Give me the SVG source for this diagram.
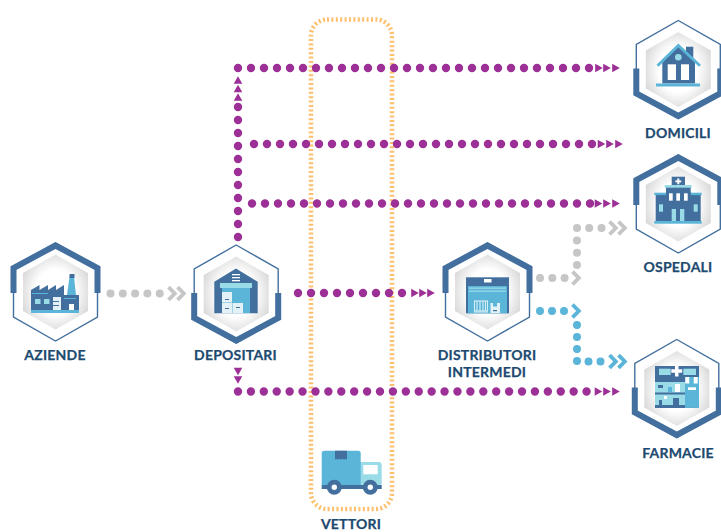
<svg xmlns="http://www.w3.org/2000/svg" xmlns:xlink="http://www.w3.org/1999/xlink" width="721" height="532" viewBox="0 0 721 532">
<style>
text{font-family:"Lato","Liberation Sans",sans-serif;font-weight:700;font-size:14px;fill:#1d4a70;text-anchor:middle;letter-spacing:.2px;stroke:#1d4a70;stroke-width:.25}
.thin{fill:#fff;stroke:#426f9e;stroke-width:1.4;stroke-linejoin:miter}
.thick{fill:none;stroke:#426f9e;stroke-width:6;stroke-linejoin:miter}
.d{fill:#426f9e}.b{fill:#5bb5d8}.l{fill:#9adbe8}.w{fill:#fff}.p{fill:#e2f1f6}
.dots{fill:none;stroke-linecap:round;stroke-width:8.4}
.pu{stroke:#9c3097;stroke-dasharray:0 13}
.gr{stroke:#c6c6c6;stroke-dasharray:0 12.3;stroke-width:8}
.bl{stroke:#5bb5d8;stroke-dasharray:0 12;stroke-width:8}
.chev{fill:none;stroke-width:3.8;stroke-linecap:butt}
</style>
<defs>
<radialGradient id="g" cx=".5" cy=".5" r=".55"><stop offset=".55" stop-color="#fff"/><stop offset="1" stop-color="#d9d9d9"/></radialGradient>
<g id="hexbase">
<polygon class="thin" points="0,-49 42,-25 42,25 0,49 -42,25 -42,-25"/>
<polygon fill="url(#g)" points="0,-37.5 32.5,-19 32.5,19 0,37.5 -32.5,19 -32.5,-19"/>
</g>
<polyline id="bandTop" class="thick" points="-42,1 -42,-24 0,-46.500 42,-24 42,1"/>
<polyline id="bandBot" class="thick" points="-42,-1 -42,24 0,46.500 42,24 42,-1"/>
<polygon id="tri" points="-3.8,-4.300 3.800,0 -3.800,4.300" fill="#9c3097"/>
<polyline id="chevG" class="chev" stroke="#c6c6c6" points="-3.500,-6.300 2.800,0 -3.500,6.300"/>
<polyline id="chevB" class="chev" stroke="#5bb5d8" points="-3.500,-6.300 2.800,0 -3.500,6.300"/>
</defs>

<g id="carrier-frame"><rect x="311" y="19.500" width="81" height="489.500" rx="16" fill="none" stroke="#fdbf6b" stroke-width="4.500" stroke-dasharray="2 2.400"/></g>

<g id="connectors">
<path class="dots pu" d="M238 68H590"/>
<path class="dots pu" d="M238 237V106.500"/>
<path class="dots pu" d="M254 144H593"/>
<path class="dots pu" d="M252 203.500H590.500"/>
<path class="dots pu" d="M298 293H403"/>
<path class="dots pu" style="stroke-dasharray:0 12.91" d="M238 391.500H587"/>
<use href="#tri" transform="translate(599,68)"/><use href="#tri" transform="translate(607,68)"/><use href="#tri" transform="translate(616,68)"/>
<use href="#tri" transform="translate(601.500,144)"/><use href="#tri" transform="translate(610,144)"/><use href="#tri" transform="translate(619,144)"/>
<use href="#tri" transform="translate(598.500,203.500)"/><use href="#tri" transform="translate(607,203.500)"/><use href="#tri" transform="translate(616,203.500)"/>
<use href="#tri" transform="translate(415,293)"/><use href="#tri" transform="translate(423,293)"/><use href="#tri" transform="translate(431,293)"/>
<use href="#tri" transform="translate(598.500,391.500)"/><use href="#tri" transform="translate(607,391.500)"/><use href="#tri" transform="translate(616,391.500)"/>
<use href="#tri" transform="translate(238,80) rotate(-90)"/><use href="#tri" transform="translate(238,88.500) rotate(-90)"/><use href="#tri" transform="translate(238,97) rotate(-90)"/>
<use href="#tri" transform="translate(238,371.500) rotate(90)"/><use href="#tri" transform="translate(238,380) rotate(90)"/>

<path class="dots gr" d="M110.500 293.500H162"/>
<use href="#chevG" transform="translate(172,293.500)"/><use href="#chevG" transform="translate(181,293.500)"/>
<path class="dots gr" d="M540 278H566"/>
<use href="#chevG" transform="translate(576,278)"/>
<path class="dots gr" d="M577 265V228H603"/>
<use href="#chevG" transform="translate(613,228)"/><use href="#chevG" transform="translate(622,228)"/>

<path class="dots bl" d="M540 311H566"/>
<use href="#chevB" transform="translate(576,311)"/>
<path class="dots bl" d="M577 325V361.500H603"/>
<use href="#chevB" transform="translate(613,361.500)"/><use href="#chevB" transform="translate(622,361.500)"/>
</g>

<g id="aziende">
<use href="#hexbase" transform="translate(55.500,292)"/><use href="#bandTop" transform="translate(55.500,292)"/>
<polygon class="d" points="31,290 39.500,285 39.500,290 48,285 48,290 56,285 56,290 64,285 64,295 79,295 79,310 31,310"/>
<polygon class="b" points="67,295 69.500,277 74,277 76,295"/>
<rect class="d" x="69.500" y="274" width="5" height="4"/>
<rect class="l" x="35" y="299" width="5.500" height="5"/><rect class="l" x="44" y="299" width="5.500" height="5"/>
<rect class="b" x="32" y="293" width="16" height="1"/><rect class="b" x="64" y="298" width="12" height="1"/>
<rect class="p" x="53" y="297" width="8" height="13"/><rect class="d" x="53" y="301" width="6" height="1"/><rect class="d" x="53" y="305" width="6" height="1"/>
<rect class="w" x="69" y="304" width="5" height="6"/>
<rect class="b" x="31" y="310" width="48" height="3"/>
<text x="55" y="360">AZIENDE</text>
</g>

<g id="depositari">
<use href="#hexbase" transform="translate(236.200,294)"/><use href="#bandBot" transform="translate(236.200,294)"/>
<polygon class="d" points="236,268.500 257.700,281.700 257.700,313.300 214.300,313.300 214.300,281.700"/>
<rect class="w" x="232" y="274" width="8" height="1.300"/><rect class="w" x="232" y="277" width="8" height="1.300"/><rect class="w" x="232" y="280" width="8" height="1.300"/>
<rect class="b" x="222" y="288" width="28" height="25"/>
<rect class="l" x="220" y="283" width="32" height="5"/>
<rect class="p" x="222" y="292" width="10" height="10"/><rect class="p" x="222" y="302.500" width="10" height="10.500"/><rect class="p" x="232.500" y="303" width="10.500" height="10"/>
<rect class="d" x="225" y="299" width="4" height="1"/><rect class="d" x="236" y="307" width="4" height="1"/><rect class="d" x="225" y="308" width="4" height="1"/>
<text x="235.500" y="360">DEPOSITARI</text>
</g>

<g id="distributori">
<use href="#hexbase" transform="translate(487.500,292)"/><use href="#bandTop" transform="translate(487.500,292)"/>
<rect class="d" x="466" y="277.300" width="43" height="36"/>
<rect class="b" x="468" y="286" width="39" height="27.300"/>
<rect class="w" x="484" y="279" width="7.500" height="3.500"/>
<rect class="l" x="469" y="287.500" width="37" height="1.300"/><rect class="l" x="469" y="290.500" width="37" height="1.300"/>
<g fill="none" stroke="#d5eef5" stroke-width="1.100"><rect x="474.500" y="301" width="13" height="10"/><path d="M477 301v10M480 301v10M483 301v10M485.500 301v10M474 312h14"/></g>
<rect class="p" x="490.500" y="303" width="9.500" height="10"/><rect class="b" x="493" y="303" width="4" height="3.500"/><rect class="d" x="493" y="310" width="4" height="1.200"/>
<text x="487" y="360">DISTRIBUTORI</text>
<text x="487" y="376.500">INTERMEDI</text>
</g>

<g id="domicili">
<use href="#hexbase" transform="translate(678.300,69.500)"/><use href="#bandBot" transform="translate(678.300,69.500)"/>
<rect class="d" x="686" y="46.700" width="7.300" height="16"/>
<polygon class="d" points="678.300,46 695,62 695,83.500 662.300,83.500 662.300,62"/>
<path d="M657.500 65.700L678.300 45.500L700 65.700" fill="none" stroke="#5bb5d8" stroke-width="2.800"/>
<circle class="l" cx="678.300" cy="57.300" r="3.300"/>
<rect class="w" x="667.700" y="64.300" width="8.300" height="15.700"/><rect class="w" x="681" y="64.300" width="8" height="15.700"/>
<rect class="b" x="656" y="83.500" width="44" height="3"/>
<text x="678" y="137.500">DOMICILI</text>
</g>

<g id="ospedali">
<use href="#hexbase" transform="translate(678.300,204)"/><use href="#bandTop" transform="translate(678.300,204)"/>
<rect class="d" x="671.700" y="176.700" width="13.300" height="9"/>
<path class="w" d="M677.300 178.500h2v2h2v1.800h-2v2h-2v-2h-2v-1.800h2z"/>
<rect class="d" x="666" y="187" width="24.700" height="10"/>
<rect class="l" x="664.700" y="185" width="27" height="2.700"/>
<rect class="d" x="655.700" y="195" width="45" height="26"/>
<rect class="b" x="654.300" y="192.700" width="47.400" height="2.400"/>
<rect class="d" x="666" y="192" width="24.700" height="5"/>
<rect class="w" x="669" y="193.300" width="3.700" height="7.400"/><rect class="w" x="676.300" y="193.300" width="3.700" height="7.400"/><rect class="w" x="684" y="193.300" width="3.700" height="7.400"/>
<rect class="l" x="659" y="204.300" width="4" height="7.400"/><rect class="l" x="693.700" y="204.300" width="4" height="7.400"/>
<rect class="l" x="671.700" y="209" width="4.300" height="12"/><rect class="l" x="680" y="209" width="4.300" height="12"/>
<rect class="b" x="654.300" y="221" width="47.400" height="2.700"/>
<text x="678" y="272">OSPEDALI</text>
</g>

<g id="farmacie">
<use href="#hexbase" transform="translate(676.800,388.500)"/><use href="#bandBot" transform="translate(676.800,388.500)"/>
<rect class="d" x="655" y="366" width="44" height="41.700"/>
<rect class="l" x="659" y="368.700" width="11.700" height="6.300"/><rect class="l" x="683.300" y="368.700" width="12.700" height="6.300"/>
<path class="w" d="M675 365.500h3.500v3.700h3.700v3.500h-3.700v3.700h-3.500v-3.700h-3.700v-3.500h3.700z"/>
<rect class="b" x="685" y="377" width="14" height="30.700"/>
<rect class="l" x="655" y="382" width="30" height="23"/>
<rect class="d" x="655" y="392.500" width="30" height="2"/>
<rect class="d" x="658" y="385" width="5" height="3"/><rect class="b" x="668" y="387" width="4" height="5"/><rect class="w" x="675" y="384" width="5" height="8"/>
<rect class="d" x="659" y="400" width="3" height="5"/><rect class="w" x="664" y="396" width="3" height="3"/><rect class="d" x="673" y="398" width="6" height="7"/>
<rect class="d" x="655" y="405" width="30" height="3"/>
<rect class="w" x="685.300" y="377" width="4" height="6.500"/><rect class="w" x="693.700" y="377" width="4" height="6.500"/><rect class="w" x="688" y="387.300" width="8" height="2.700"/>
<text x="678" y="458">FARMACIE</text>
</g>

<g id="vettori">
<rect class="l" x="358" y="462" width="23.700" height="24" rx="3"/>
<rect class="w" x="363.300" y="465" width="14.400" height="9.300"/>
<rect class="b" x="321.700" y="450.700" width="39" height="36" rx="2.500"/>
<path class="d" d="M335 450.700h12v9l-1.500-1-1.500 1-1.500-1-1.500 1-1.500-1-1.500 1-1.500-1-1.500 1z"/>
<rect class="d" x="321.700" y="485" width="60" height="4"/>
<circle class="d" cx="334.300" cy="487.300" r="7.500"/><circle class="w" cx="334.300" cy="487.300" r="2.700"/>
<circle class="d" cx="370.300" cy="487.300" r="7.500"/><circle class="w" cx="370.300" cy="487.300" r="2.700"/>
<text x="351" y="529">VETTORI</text>
</g>
</svg>
